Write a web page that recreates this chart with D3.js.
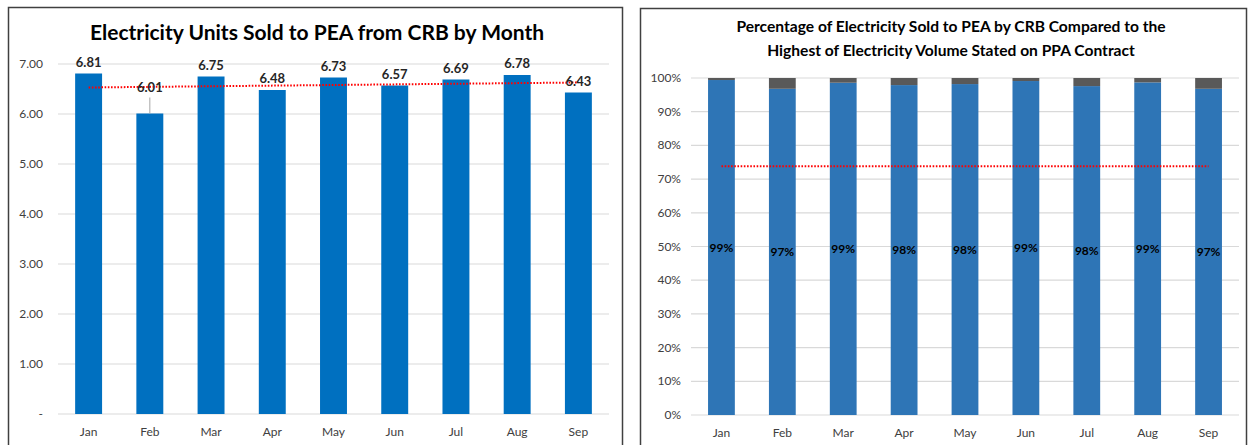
<!DOCTYPE html>
<html>
<head>
<meta charset="utf-8">
<script src="https://cdn.jsdelivr.net/npm/d3@7"></script>
<style>
  body { margin: 0; background: #fff; }
  svg { display: block; font-family: Lato, "Open Sans", sans-serif; }
  .tick-lbl { fill: #404040; font-size: 12px; }
  .ttl { fill: #000; font-weight: bold; }
</style>
</head>
<body>
<svg id="chart" width="1250" height="445"></svg>
<script>

// data
var months = ["Jan", "Feb", "Mar", "Apr", "May", "Jun", "Jul", "Aug", "Sep"];
var unitsSold = [6.81, 6.01, 6.75, 6.48, 6.73, 6.57, 6.69, 6.78, 6.43];
var unitsTicks = [0, 1, 2, 3, 4, 5, 6, 7];
var unitsTrend = [6.53, 6.63];          // start / end of dotted trend line
var pctSold = [99.4, 96.8, 98.6, 97.9, 98.2, 99.1, 97.6, 98.7, 96.8];
var pctTicks = [0, 10, 20, 30, 40, 50, 60, 70, 80, 90, 100];
var pctTarget = [73.8];

var svg = d3.select("#chart");

/////////// panel frames
svg.append("rect").attr("x", 8.5).attr("y", 7.5).attr("width", 614).attr("height", 450)
    .attr("fill", "none").attr("stroke", "#404040").attr("stroke-width", 1.5);
svg.append("rect").attr("x", 640.5).attr("y", 8.5).attr("width", 606).attr("height", 450)
    .attr("fill", "none").attr("stroke", "#404040").attr("stroke-width", 1.5);


/////////// LEFT chart
var xL = d3.scaleBand().domain(months).range([58, 609]).paddingInner(0.56).paddingOuter(0.28);
var yL = d3.scaleLinear().domain([0, 7]).range([414, 64]);

svg.append("text").attr("class", "ttl").attr("x", 317).attr("y", 40)
    .attr("text-anchor", "middle").style("font-size", "21px")
    .text("Electricity Units Sold to PEA from CRB by Month");

var gL = svg.append("g");

gL.selectAll(".grid")
    .data(unitsTicks)
    .enter()
    .append("line")
    .attr("x1", 58).attr("x2", 609)
    .attr("y1", function(d) { return yL(d); })
    .attr("y2", function(d) { return yL(d); })
    .attr("stroke", "#d9d9d9").attr("stroke-width", 1.2);

gL.selectAll(".ylbl")
    .data(unitsTicks)
    .enter()
    .append("text")
    .attr("class", "tick-lbl")
    .attr("x", 43)
    .attr("y", function(d) { return yL(d) + 4; })
    .attr("text-anchor", "end")
    .text(function(d) { return d === 0 ? "-" : d3.format(".2f")(d); });

gL.selectAll(".bar")
    .data(unitsSold)
    .enter()
    .append("rect")
    .attr("x", function(d, i) { return xL(months[i]); })
    .attr("y", function(d) { return yL(d); })
    .attr("width", xL.bandwidth())
    .attr("height", function(d) { return yL(0) - yL(d); })
    .attr("fill", "#0070c0");

gL.selectAll(".xlbl")
    .data(months)
    .enter()
    .append("text")
    .attr("class", "tick-lbl")
    .attr("x", function(d) { return xL(d) + xL.bandwidth() / 2; })
    .attr("y", 436)
    .attr("text-anchor", "middle")
    .text(function(d) { return d; });

// dotted trend line
gL.append("line")
    .attr("x1", xL(months[0]) + xL.bandwidth() / 2)
    .attr("x2", xL(months[months.length - 1]) + xL.bandwidth() / 2)
    .attr("y1", yL(unitsTrend[0]))
    .attr("y2", yL(unitsTrend[1]))
    .attr("stroke", "#ff0000").attr("stroke-width", 2).attr("stroke-dasharray", "1.6 1.6");

// value labels (Feb label sits higher with a leader line)
var lifted = { "Feb": 15 };
gL.selectAll(".vlbl")
    .data(unitsSold)
    .enter()
    .append("text")
    .attr("x", function(d, i) { return xL(months[i]) + xL.bandwidth() / 2; })
    .attr("y", function(d, i) { return yL(d) - 7 - (lifted[months[i]] || 0); })
    .attr("text-anchor", "middle")
    .style("font-size", "13px").style("font-weight", "bold").attr("fill", "#262626")
    .text(function(d) { return d3.format(".2f")(d); });

months.forEach(function(m, i) {
    if (!lifted[m]) return;
    var cx = xL(m) + xL.bandwidth() / 2;
    gL.append("line")
        .attr("x1", cx).attr("x2", cx)
        .attr("y1", yL(unitsSold[i]) - 16).attr("y2", yL(unitsSold[i]))
        .attr("stroke", "#a6a6a6").attr("stroke-width", 1);
});


/////////// RIGHT chart
var xR = d3.scaleBand().domain(months).range([691, 1239]).paddingInner(0.56).paddingOuter(0.28);
var yR = d3.scaleLinear().domain([0, 100]).range([415, 78]);

var ttlR = svg.append("text").attr("class", "ttl").attr("text-anchor", "middle").style("font-size", "15.6px");
ttlR.append("tspan").attr("x", 951).attr("y", 32).text("Percentage of Electricity Sold to PEA by CRB Compared to the");
ttlR.append("tspan").attr("x", 951).attr("y", 56).text("Highest of Electricity Volume Stated on PPA Contract");

var gR = svg.append("g");

gR.selectAll(".grid")
    .data(pctTicks)
    .enter()
    .append("line")
    .attr("x1", 691).attr("x2", 1239)
    .attr("y1", function(d) { return yR(d); })
    .attr("y2", function(d) { return yR(d); })
    .attr("stroke", "#d9d9d9").attr("stroke-width", 1.2);

gR.selectAll(".ylbl")
    .data(pctTicks)
    .enter()
    .append("text")
    .attr("class", "tick-lbl")
    .attr("x", 681)
    .attr("y", function(d) { return yR(d) + 4; })
    .attr("text-anchor", "end")
    .text(function(d) { return d + "%"; });

var rows = months.map(function(m, i) {
    return { month: m, sold: pctSold[i], rest: 100 - pctSold[i] };
});
var stacked = d3.stack().keys(["sold", "rest"])(rows);
var colours = { sold: "#2e75b6", rest: "#595959" };

gR.selectAll(".layer")
    .data(stacked)
    .enter()
    .append("g")
    .attr("fill", function(d) { return colours[d.key]; })
    .selectAll("rect")
    .data(function(d) { return d; })
    .enter()
    .append("rect")
    .attr("x", function(d) { return xR(d.data.month); })
    .attr("y", function(d) { return yR(d[1]); })
    .attr("width", xR.bandwidth())
    .attr("height", function(d) { return yR(d[0]) - yR(d[1]); });

gR.append("line")
    .attr("x1", xR(months[0]) + xR.bandwidth() / 2)
    .attr("x2", xR(months[months.length - 1]) + xR.bandwidth() / 2)
    .attr("y1", yR(pctTarget[0]))
    .attr("y2", yR(pctTarget[0]))
    .attr("stroke", "#ff0000").attr("stroke-width", 2).attr("stroke-dasharray", "1.6 1.6");

gR.selectAll(".vlbl")
    .data(rows)
    .enter()
    .append("text")
    .attr("x", function(d) { return xR(d.month) + xR.bandwidth() / 2; })
    .attr("y", function(d) { return yR(d.sold / 2) + 4; })
    .attr("text-anchor", "middle")
    .style("font-size", "12px").style("font-weight", "bold").attr("fill", "#000")
    .text(function(d) { return Math.round(d.sold) + "%"; });

gR.selectAll(".xlbl")
    .data(months)
    .enter()
    .append("text")
    .attr("class", "tick-lbl")
    .attr("x", function(d) { return xR(d) + xR.bandwidth() / 2; })
    .attr("y", 437)
    .attr("text-anchor", "middle")
    .text(function(d) { return d; });

</script>
</body>
</html>
